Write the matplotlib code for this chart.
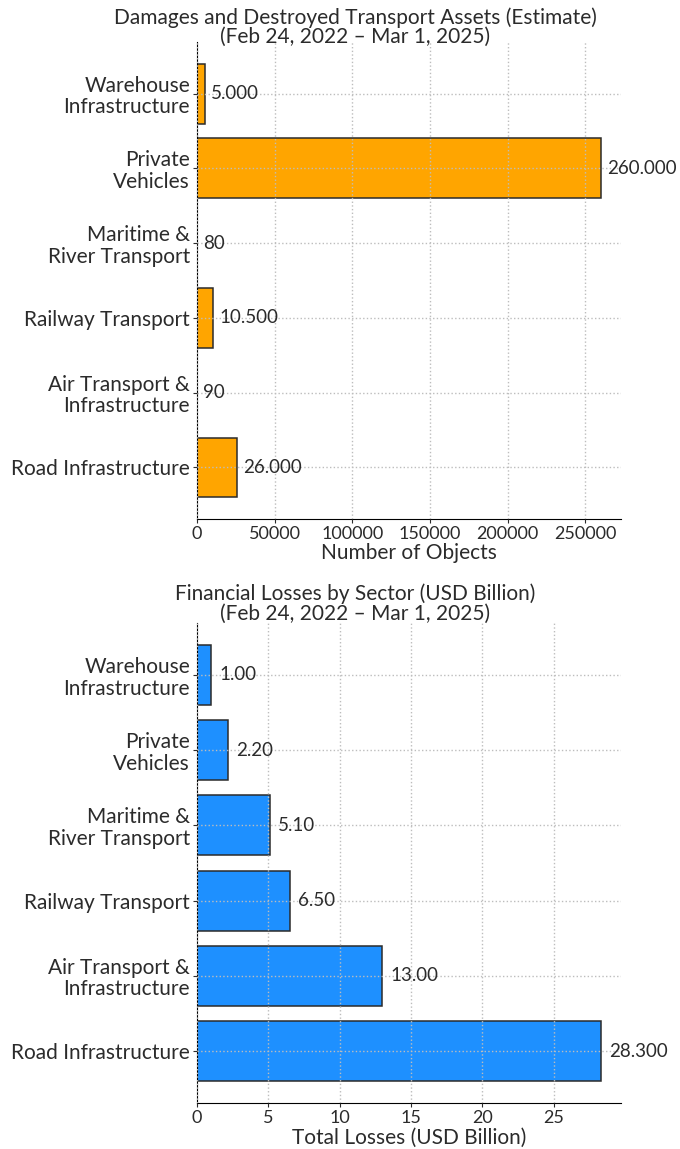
import matplotlib
matplotlib.use("Agg")
import matplotlib.pyplot as plt

plt.rcParams['font.family'] = ['Lato', 'DejaVu Sans']
plt.rcParams['text.color'] = '#2b2b2b'
plt.rcParams['axes.labelcolor'] = '#2b2b2b'
plt.rcParams['xtick.color'] = '#2b2b2b'
plt.rcParams['ytick.color'] = '#2b2b2b'

# sectors, bottom to top
sectors = [
    "Road Infrastructure",
    "Air Transport &\nInfrastructure",
    "Railway Transport",
    "Maritime &\nRiver Transport",
    "Private\nVehicles",
    "Warehouse\nInfrastructure",
]

# destroyed / damaged objects
objects = [26000, 90, 10500, 80, 260000, 5000]

# financial losses, USD billion
losses = [28.3, 13.0, 6.5, 5.1, 2.2, 1.0]
loss_labels = ["28.300", "13.00", "6.50", "5.10", "2.20", "1.00"]

fig = plt.figure(figsize=(6.8, 11.49), dpi=100)
ax1 = fig.add_axes([0.2897, 0.5483, 0.6235, 0.4151])
ax2 = fig.add_axes([0.2897, 0.0400, 0.6235, 0.4178])


def style(ax, vmax):
    ax.set_xlim(0, vmax * 1.05)
    ax.spines['top'].set_visible(False)
    ax.spines['right'].set_visible(False)
    ax.grid(True, linestyle=':', color='#bdbdbd', linewidth=1)
    ax.set_axisbelow(False)
    ax.tick_params(axis='x', labelsize=13, length=3, pad=2)
    ax.tick_params(axis='y', labelsize=15, length=3, pad=2)
    for lab in ax.get_yticklabels():
        lab.set_linespacing(1.1)


# top panel
ax1.barh(sectors, objects, height=0.8, color='#FFA500', edgecolor='#2b2b2b', linewidth=1.1)
style(ax1, max(objects))
for i, v in enumerate(objects):
    ax1.text(v + max(objects) * 0.015, i, f"{v:,}".replace(",", "."),
             va='center', ha='left', fontsize=13.5)
ax1.set_xlabel("Number of Objects", fontsize=15, labelpad=1)
fig.text(0.522, 0.9765, "Damages and Destroyed Transport Assets (Estimate)\n(Feb 24, 2022 \u2013 Mar 1, 2025)",
         ha='center', va='center', fontsize=15, linespacing=0.95)

# bottom panel
ax2.barh(sectors, losses, height=0.8, color='#1E90FF', edgecolor='#2b2b2b', linewidth=1.1)
style(ax2, max(losses))
for i, (v, lab) in enumerate(zip(losses, loss_labels)):
    ax2.text(v + max(losses) * 0.02, i, lab, va='center', ha='left', fontsize=13.5)
ax2.set_xlabel("Total Losses (USD Billion)", fontsize=15, labelpad=1)
fig.text(0.522, 0.4745, "Financial Losses by Sector (USD Billion)\n(Feb 24, 2022 \u2013 Mar 1, 2025)",
         ha='center', va='center', fontsize=15, linespacing=0.95)

fig.savefig("out.png", dpi=100)
